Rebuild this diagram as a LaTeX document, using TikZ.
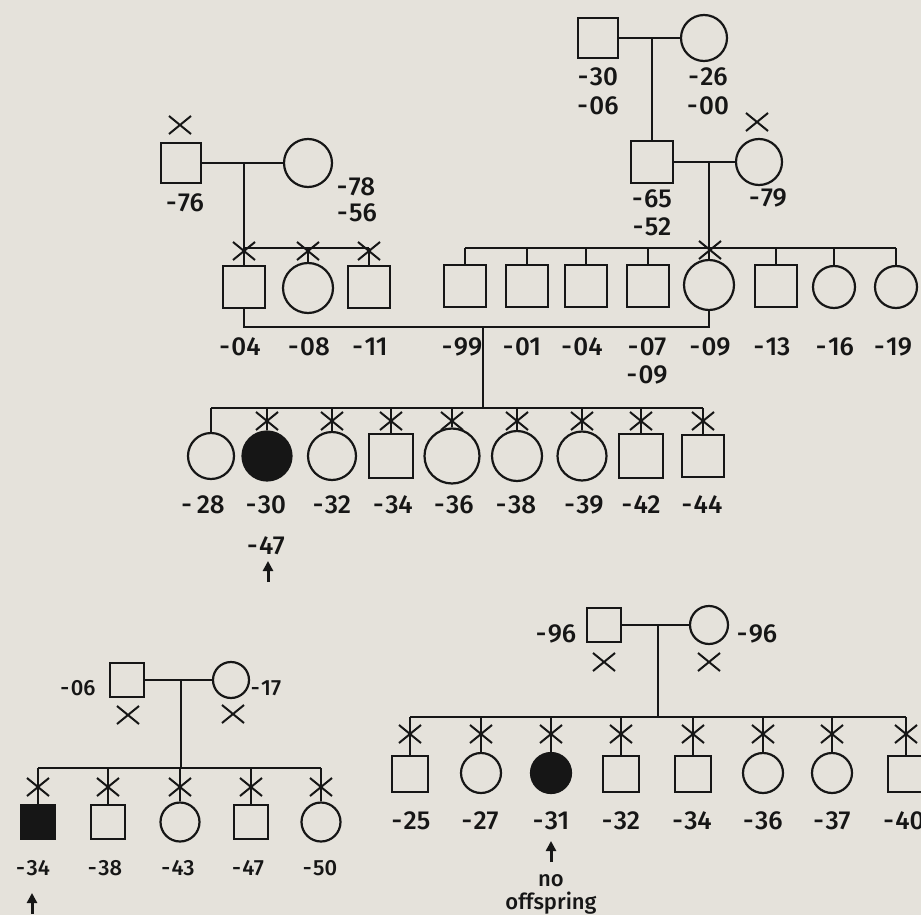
\documentclass[tikz,border=0pt]{standalone}
\usepackage{fontspec}
\setmainfont{Liberation Sans}
\newfontfamily\labfont{Fira Sans}[UprightFont=*-Medium, Numbers=Lining]
\usetikzlibrary{arrows.meta,calc}
\definecolor{bg}{RGB}{229,226,219}
\definecolor{ink}{RGB}{22,22,22}
\newcommand{\yr}[1]{-\kern1.5pt#1}
\begin{document}
\begin{tikzpicture}[x=1pt,y=-1pt,
  sq/.style={draw=ink, rectangle, line width=2.2pt, minimum size=#1, inner sep=0pt},
  ci/.style={draw=ink, circle, line width=2.2pt, minimum size=#1, inner sep=0pt},
  aff/.style={fill=ink},
  lab/.style={inner sep=0pt, text=ink, font=\labfont\fontsize{26}{26}\selectfont},
  slab/.style={inner sep=0pt, text=ink, font=\labfont\fontsize{22}{22}\selectfont},
  conn/.style={draw=ink, line width=2.2pt},
  proband/.style={draw=ink, line width=3pt, -{Triangle[length=10pt,width=10pt]}},
  pics/xmark/.style={code={\draw[ink, line width=2pt] (-11,-9) -- (11,9) (-11,9) -- (11,-9);}}
]
\fill[bg] (0,0) rectangle (921,915);
\useasboundingbox (0,0) rectangle (921,915);

% ---------- top right grandparents ----------
\node[sq=40] (gf2) at (598,38) {};
\node[ci=46] (gm2) at (704,38) {};
\coordinate (m2) at (652,38);
\draw[conn] (gf2.east) -- (gm2.west);
\node[lab] (l30) at (598,77) {\yr{30}};
\node[lab] (l06) at (598,106) {\yr{06}};
\node[lab] (l26) at (708,77) {\yr{26}};
\node[lab] (l00) at (708,106) {\yr{00}};

\node[sq=42] (f1) at (652,162) {};
\node[ci=46] (w1) at (759,162) {};
\draw[conn] (m2) -- (f1.north);
\draw[conn] (f1.east) -- (w1.west);
\pic at (757,122) {xmark};
\node[lab] (l65) at (652,199) {\yr{65}};
\node[lab] (l52) at (652,227) {\yr{52}};
\node[lab] (l79) at (768,198) {\yr{79}};

% ---------- top left grandparents ----------
\node[sq=40] (gf1) at (181,163) {};
\node[ci=48] (gm1) at (308,163) {};
\coordinate (m1) at (244,163);
\draw[conn] (gf1.east) -- (gm1.west);
\pic at (180,125) {xmark};
\node[lab] (l76) at (185,203) {\yr{76}};
\node[lab] (l78) at (356,187) {\yr{78}};
\node[lab] (l56) at (357,213) {\yr{56}};

% ---------- middle generation ----------
\coordinate (s1) at (0,248);
\node[sq=42] (a1) at (244,287) {};
\node[ci=50] (a2) at (308,288) {};
\node[sq=42] (a3) at (369,287) {};
\draw[conn] (m1) -- (a1.north);
\draw[conn] (a1.north |- s1) -- (a3.north |- s1);
\draw[conn] (a2.north) -- (a2.north |- s1);
\draw[conn] (a3.north) -- (a3.north |- s1);
\foreach \xx in {244,308,369} \pic at (\xx,251) {xmark};

\node[sq=42] (b1) at (465,286) {};
\node[sq=42] (b2) at (527,286) {};
\node[sq=42] (b3) at (586,286) {};
\node[sq=42] (b4) at (648,286) {};
\node[ci=50] (b5) at (709,285) {};
\node[sq=42] (b6) at (776,286) {};
\node[ci=42] (b7) at (834,287) {};
\node[ci=42] (b8) at (896,287) {};
\coordinate (m3) at (709,162);
\draw[conn] (m3) -- (b5.north);
\draw[conn] (b1.north |- s1) -- (b8.north |- s1);
\foreach \n in {b1,b2,b3,b4,b6,b7,b8} \draw[conn] (\n.north) -- (\n.north |- s1);
\pic at (710,250) {xmark};

\node[lab] (la04) at (240,347) {\yr{04}};
\node[lab] (la08) at (309,347) {\yr{08}};
\node[lab] (la11) at (370,347) {\yr{11}};
\node[lab] (lb99) at (462,347) {\yr{99}};
\node[lab] (lb01) at (522,347) {\yr{01}};
\node[lab] (lb04) at (582,347) {\yr{04}};
\node[lab] (lb07) at (647,347) {\yr{07}};
\node[lab] (lb07b) at (647,375) {\yr{09}};
\node[lab] (lb09) at (710,347) {\yr{09}};
\node[lab] (lb13) at (772,347) {\yr{13}};
\node[lab] (lb16) at (835,347) {\yr{16}};
\node[lab] (lb19) at (893,347) {\yr{19}};

% marriage of -04 and -09
\coordinate (mm) at (0,327);
\draw[conn] (a1.south) -- (a1.south |- mm) -- (b5.south |- mm) -- (b5.south);
\coordinate (d3) at (483,327);
\coordinate (s3) at (0,408);
\draw[conn] (d3) -- (d3 |- s3);

% ---------- third generation ----------
\node[ci=46] (c1) at (211,456) {};
\node[ci=49, aff] (c2) at (267,456) {};
\node[ci=48] (c3) at (332,456) {};
\node[sq=44] (c4) at (391,456) {};
\node[ci=55] (c5) at (452,456) {};
\node[ci=50] (c6) at (517,456) {};
\node[ci=49] (c7) at (582,456) {};
\node[sq=44] (c8) at (641,456) {};
\node[sq=42] (c9) at (703,456) {};
\draw[conn] (c1.north |- s3) -- (c9.north |- s3);
\foreach \n in {c1,c2,c3,c4,c5,c6,c7,c8,c9} \draw[conn] (\n.north) -- (\n.north |- s3);
\foreach \xx in {267,332,391,452,517,582,641,703} \pic at (\xx,421) {xmark};

\node[lab] (lc28) at (203,505) {-\kern5pt28};
\node[lab] (lc30) at (266,505) {\yr{30}};
\node[lab] (lc32) at (332,505) {\yr{32}};
\node[lab] (lc34) at (393,505) {\yr{34}};
\node[lab] (lc36) at (454,505) {\yr{36}};
\node[lab] (lc38) at (516,505) {\yr{38}};
\node[lab] (lc39) at (584,505) {\yr{39}};
\node[lab] (lc42) at (641,505) {\yr{42}};
\node[lab] (lc44) at (702,505) {\yr{44}};
\node[lab] (lc47) at (266,546) {\yr{47}};
\coordinate (ar1a) at (268,582);
\coordinate (ar1b) at (268,561);
\draw[proband] (ar1a) -- (ar1b);

% ---------- bottom left pedigree ----------
\node[sq=34] (p1) at (127,680) {};
\node[ci=36] (p2) at (231,680) {};
\coordinate (m4) at (181,680);
\coordinate (s4) at (0,768);
\draw[conn] (p1.east) -- (p2.west);
\draw[conn] (m4) -- (m4 |- s4);
\pic at (128,715) {xmark};
\pic at (233,714) {xmark};
\node[slab] (l06b) at (78,688) {\yr{06}};
\node[slab] (l17) at (266,688) {\yr{17}};

\node[sq=34, aff] (e1) at (38,822) {};
\node[sq=34] (e2) at (108,822) {};
\node[ci=39] (e3) at (180,822) {};
\node[sq=34] (e4) at (251,822) {};
\node[ci=39] (e5) at (321,822) {};
\draw[conn] (e1.north |- s4) -- (e5.north |- s4);
\foreach \n in {e1,e2,e3,e4,e5} \draw[conn] (\n.north) -- (\n.north |- s4);
\foreach \xx in {38,108,180,251,321} \pic at (\xx,787) {xmark};
\node[slab] (le34) at (33,868) {\yr{34}};
\node[slab] (le38) at (105,868) {\yr{38}};
\node[slab] (le43) at (178,868) {\yr{43}};
\node[slab] (le47) at (248,868) {\yr{47}};
\node[slab] (le50) at (320,868) {\yr{50}};
\coordinate (ar2a) at (32,914);
\coordinate (ar2b) at (32,893);
\draw[proband] (ar2a) -- (ar2b);

% ---------- bottom right pedigree ----------
\node[sq=34] (q1) at (604,625) {};
\node[ci=38] (q2) at (709,625) {};
\coordinate (m5) at (658,625);
\coordinate (s5) at (0,717);
\draw[conn] (q1.east) -- (q2.west);
\draw[conn] (m5) -- (m5 |- s5);
\pic at (604,662) {xmark};
\pic at (709,662) {xmark};
\node[lab] (l96a) at (556,634) {\yr{96}};
\node[lab] (l96b) at (757,634) {\yr{96}};

\node[sq=36] (g1) at (410,774) {};
\node[ci=40] (g2) at (481,773) {};
\node[ci=40, aff] (g3) at (551,773) {};
\node[sq=36] (g4) at (621,774) {};
\node[sq=36] (g5) at (693,774) {};
\node[ci=40] (g6) at (763,773) {};
\node[ci=40] (g7) at (832,773) {};
\node[sq=36] (g8) at (906,774) {};
\draw[conn] (g1.north |- s5) -- (g8.north |- s5);
\foreach \n in {g1,g2,g3,g4,g5,g6,g7,g8} \draw[conn] (\n.north) -- (\n.north |- s5);
\foreach \xx in {410,481,551,621,693,763,832,906} \pic at (\xx,734) {xmark};
\node[lab] (lg25) at (411,821) {\yr{25}};
\node[lab] (lg27) at (480,821) {\yr{27}};
\node[lab] (lg31) at (551,821) {\yr{31}};
\node[lab] (lg32) at (621,821) {\yr{32}};
\node[lab] (lg34) at (692,821) {\yr{34}};
\node[lab] (lg36) at (763,821) {\yr{36}};
\node[lab] (lg37) at (832,821) {\yr{37}};
\node[lab] (lg40) at (904,821) {\yr{40}};
\coordinate (ar3a) at (551,862);
\coordinate (ar3b) at (551,841);
\draw[proband] (ar3a) -- (ar3b);
\node[slab, anchor=base] (lno) at (551,886) {no};
\node[slab, anchor=base] (loff) at (551,909) {offspring};
\end{tikzpicture}
\end{document}
